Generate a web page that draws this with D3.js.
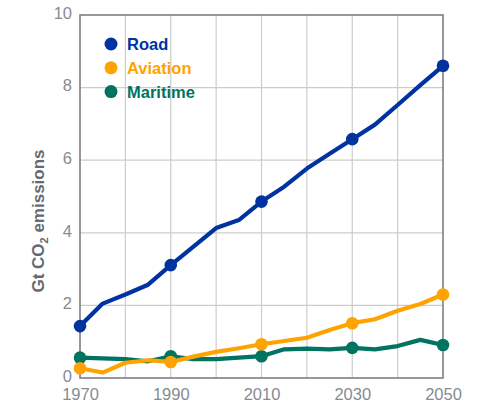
<!DOCTYPE html>
<html>
<head>
<meta charset="utf-8">
<script src="https://cdn.jsdelivr.net/npm/d3@7"></script>
<style>
  body { margin: 0; background: #fff; }
  svg { font-family: "Liberation Sans", Arial, sans-serif; }
  .tick text { fill: #868b92; font-size: 16.5px; }
  .grid line { stroke: #cccccc; stroke-width: 1.2; }
</style>
</head>
<body>
<div id="chart"></div>
<script>
var years = [1970, 1975, 1980, 1985, 1990, 1995, 2000, 2005, 2010, 2015, 2020, 2025, 2030, 2035, 2040, 2045, 2050];
var road = [1.43, 2.05, 2.3, 2.57, 3.11, 3.62, 4.13, 4.35, 4.86, 5.27, 5.77, 6.18, 6.58, 6.98, 7.52, 8.07, 8.6];
var aviation = [0.27, 0.15, 0.42, 0.49, 0.44, 0.59, 0.72, 0.82, 0.93, 1.02, 1.11, 1.32, 1.51, 1.62, 1.85, 2.04, 2.3];
var maritime = [0.56, 0.54, 0.52, 0.46, 0.6, 0.52, 0.52, 0.56, 0.6, 0.79, 0.81, 0.79, 0.83, 0.79, 0.88, 1.05, 0.91];
var markerYears = [1970, 1990, 2010, 2030, 2050];
var seriesNames = ["Road", "Aviation", "Maritime"];
var colors = ["#0033a0", "#ffa300", "#007361"];
var yTicks = [0, 2, 4, 6, 8, 10];
var xTicks = [1970, 1990, 2010, 2030, 2050];

var margin = {top: 15, right: 35, bottom: 27, left: 80},
    width = 478 - margin.left - margin.right,
    height = 405 - margin.top - margin.bottom;

var x = d3.scaleLinear().domain([1970, 2050]).range([0, width]);
var y = d3.scaleLinear().domain([0, 10]).range([height, 0]);

var svg = d3.select("#chart").append("svg")
    .attr("width", 478)
    .attr("height", 405)
    .append("g")
    .attr("transform", "translate(" + margin.left + "," + margin.top + ")");

// grid
svg.append("g")
    .attr("class", "grid")
    .selectAll("line.v")
    .data(d3.range(1980, 2050, 10))
    .enter().append("line")
    .attr("x1", function(d) { return x(d); })
    .attr("x2", function(d) { return x(d); })
    .attr("y1", 0)
    .attr("y2", height);

svg.append("g")
    .attr("class", "grid")
    .selectAll("line.h")
    .data([2, 4, 6, 8])
    .enter().append("line")
    .attr("x1", 0)
    .attr("x2", width)
    .attr("y1", function(d) { return y(d); })
    .attr("y2", function(d) { return y(d); });

// frame
svg.append("rect")
    .attr("x", 0).attr("y", 0)
    .attr("width", width).attr("height", height)
    .attr("fill", "none")
    .attr("stroke", "#7a8088")
    .attr("stroke-width", 1.6);

// axes
var xAxis = svg.append("g")
    .attr("transform", "translate(0," + height + ")")
    .call(d3.axisBottom(x).tickValues(xTicks).tickFormat(d3.format("d")).tickSize(0).tickPadding(10));
xAxis.select(".domain").remove();

var yAxis = svg.append("g")
    .call(d3.axisLeft(y).tickValues(yTicks).tickSize(0).tickPadding(8));
yAxis.select(".domain").remove();
yAxis.selectAll(".tick text").attr("dy", "0.2em");

var label = svg.append("text")
    .attr("transform", "translate(-36," + 206 + ") rotate(-90)")
    .attr("text-anchor", "middle")
    .attr("fill", "#666a70")
    .attr("font-size", "17px")
    .attr("font-weight", "bold");
label.append("tspan").text("Gt CO");
label.append("tspan").attr("font-size", "11px").attr("dy", "4").text("2");
label.append("tspan").attr("dy", "-4").text(" emissions");

// lines
var line = d3.line()
    .x(function(d) { return x(d.year); })
    .y(function(d) { return y(d.value); });

var allSeries = [road, aviation, maritime];
var order = [2, 1, 0];

order.forEach(function(i) {
    var data = years.map(function(yr, j) { return {year: yr, value: allSeries[i][j]}; });
    svg.append("path")
        .datum(data)
        .attr("fill", "none")
        .attr("stroke", colors[i])
        .attr("stroke-width", 4.2)
        .attr("stroke-linejoin", "round")
        .attr("d", line);
    svg.selectAll(null)
        .data(data.filter(function(d) { return markerYears.indexOf(d.year) >= 0; }))
        .enter().append("circle")
        .attr("cx", function(d) { return x(d.year); })
        .attr("cy", function(d) { return y(d.value); })
        .attr("r", 6.3)
        .attr("fill", colors[i]);
});

// legend
var legend = svg.append("g")
    .attr("transform", "translate(31,29)");
seriesNames.forEach(function(name, i) {
    legend.append("circle")
        .attr("cx", 0)
        .attr("cy", i * 23.8)
        .attr("r", 6.5)
        .attr("fill", colors[i]);
    legend.append("text")
        .attr("x", 16)
        .attr("y", i * 23.8 + 6)
        .attr("fill", colors[i])
        .attr("font-size", "16.5px")
        .attr("font-weight", "bold")
        .text(name);
});
</script>
</body>
</html>
